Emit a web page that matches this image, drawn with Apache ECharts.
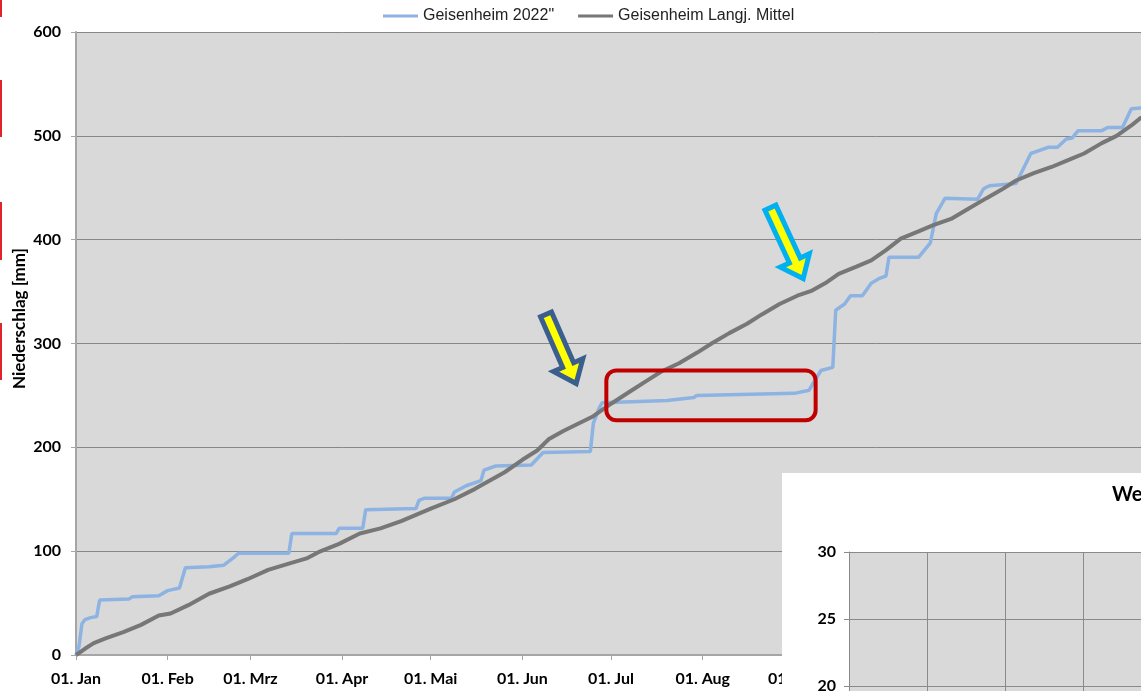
<!DOCTYPE html>
<html lang="de">
<head>
<meta charset="utf-8">
<title>Niederschlag Geisenheim</title>
<script src="https://cdn.jsdelivr.net/npm/echarts@6/dist/echarts.min.js"></script>
<style>
  html, body { margin: 0; padding: 0; background: #fff; }
  #main { width: 1141px; height: 691px; }
</style>
</head>
<body>
<div id="main"></div>
<script>
// Monatsanfaenge (Tag im Jahr) und Beschriftung
var monthStarts = [0, 31, 59, 90, 120, 151, 181, 212, 243, 273, 304, 334];
var monthNames = ['01. Jan', '01. Feb', '01. Mrz', '01. Apr', '01. Mai', '01. Jun',
                  '01. Jul', '01. Aug', '01. Sep', '01. Okt', '01. Nov', '01. Dez'];

// Geisenheim 2022 - Niederschlagssumme [mm]
var yearDays = [0, 1, 2, 3, 5, 7, 8, 18, 19, 28, 31, 35, 37, 45, 50, 53, 55, 72, 73, 88, 89, 97,
                98, 115, 116, 118, 127, 128, 132, 137, 138, 142, 154, 156, 158, 174, 175, 177,
                178, 188, 200, 209, 210, 243, 248, 249, 252, 256, 257, 260, 262, 266, 269, 272,
                274, 275, 285, 287, 289, 291, 294, 305, 307, 309, 318, 323, 325, 329, 332, 335,
                337, 339, 347, 349, 354, 357, 361];
var yearRain = [0, 8, 30, 34, 36, 37, 53, 54, 56, 57, 62, 64.5, 84, 85, 86.5, 93, 98, 98, 117, 117,
                122, 122, 140, 141, 149, 151, 151, 157, 163, 168, 178, 182, 183, 189, 195, 196,
                223, 238, 243, 244, 245, 248, 250, 252, 255, 260, 274, 277, 332, 338, 346, 346,
                358, 363, 365, 383, 383, 390, 397, 425, 440, 439, 449, 452, 454, 483, 485, 489,
                489, 497, 498, 505, 505, 508, 508, 526, 527];

// Geisenheim langjaehriges Mittel [mm]
var meanDays = [0, 3, 6, 10, 16, 22, 28, 32, 38, 45, 52, 58, 65, 72, 78, 82, 89, 96, 103, 110,
                120, 128, 135, 140, 145, 151, 156, 160, 165, 170, 175, 181, 187, 193, 198, 204,
                210, 215, 221, 227, 232, 238, 244, 249, 254, 258, 264, 269, 274, 279, 285, 290,
                296, 302, 308, 313, 318, 324, 330, 336, 341, 347, 352, 357, 360, 365];
var meanRain = [0, 6, 11.5, 16, 22, 29, 38, 40, 48, 59, 66, 73, 82, 88, 93, 99, 107, 117, 122, 129,
                141, 150, 160, 168, 176, 188, 197, 208, 216, 223, 230, 242, 253, 264, 273, 281,
                291, 300, 310, 319, 328, 338, 346, 351, 359, 367, 374, 380, 390, 401, 408, 414,
                420, 430, 440, 448, 457, 464, 470, 477, 483, 493, 500, 510, 517, 522];

// Achse des ueberlagerten Diagramms
var insetTicks = [20, 25, 30];

var labelFont = { fontFamily: 'Lato', fontWeight: 'bold', fontSize: 16, color: '#000' };

function pairs(xs, ys) {
  return xs.map(function (x, i) { return [x, ys[i]]; });
}

var myChart = echarts.init(document.getElementById('main'));

var option = {
  animation: false,
  backgroundColor: '#fff',
  legend: {
    left: 378,
    top: 3,
    itemWidth: 35,
    itemHeight: 3,
    itemGap: 24,
    icon: 'rect',
    textStyle: { fontFamily: 'Liberation Sans', fontSize: 16, color: '#222' },
    data: ['Geisenheim 2022"', 'Geisenheim Langj. Mittel']
  },
  title: {
    text: 'We',
    left: 1112,
    top: 485,
    padding: 0,
    zlevel: 1,
    z: 10,
    textStyle: { fontFamily: 'Lato', fontWeight: 'bold', fontSize: 20, color: '#000' }
  },
  grid: [{
    left: 76, top: 32, width: 1079, height: 623,
    outerBoundsMode: 'none',
    show: true, backgroundColor: '#d9d9d9', borderWidth: 0
  }, {
    left: 849, top: 552, width: 390, height: 402,
    outerBoundsMode: 'none',
    show: true, backgroundColor: '#d9d9d9', borderWidth: 0,
    zlevel: 1, z: 2
  }],
  xAxis: [{
    type: 'value', gridIndex: 0, min: 0, max: 365,
    axisLine: { show: true, lineStyle: { color: '#a6a6a6', width: 2 } },
    axisTick: { show: true, length: 5, customValues: monthStarts, lineStyle: { color: '#a6a6a6' } },
    axisLabel: Object.assign({
      margin: 16,
      customValues: monthStarts,
      formatter: function (v) { return monthNames[monthStarts.indexOf(v)]; }
    }, labelFont),
    splitLine: { show: false }
  }, {
    type: 'value', gridIndex: 1, min: 0, max: 5, interval: 1,
    zlevel: 1, z: 3,
    axisLine: { show: false },
    axisTick: { show: false },
    axisLabel: { show: false },
    splitLine: { show: true, lineStyle: { color: '#8a8a8a', width: 1 } }
  }],
  yAxis: [{
    type: 'value', gridIndex: 0, min: 0, max: 600, interval: 100,
    name: 'Niederschlag [mm]',
    nameLocation: 'middle',
    nameGap: 48,
    nameMoveOverlap: false,
    nameTextStyle: { fontFamily: 'Lato', fontWeight: 'bold', fontSize: 17, color: '#000', padding: [0, 0, 0, 50] },
    axisLine: { show: true, lineStyle: { color: '#a6a6a6', width: 2 } },
    axisTick: { show: true, length: 5, lineStyle: { color: '#a6a6a6' } },
    axisLabel: Object.assign({ margin: 15 }, labelFont),
    splitLine: { show: true, lineStyle: { color: '#878787', width: 1 } }
  }, {
    type: 'value', gridIndex: 1, min: 0, max: 30, interval: 5,
    zlevel: 1, z: 3,
    axisLine: { show: true, lineStyle: { color: '#8a8a8a', width: 1 } },
    axisTick: { show: true, length: 5, lineStyle: { color: '#8a8a8a' } },
    axisLabel: Object.assign({
      margin: 13,
      customValues: insetTicks
    }, labelFont),
    splitLine: { show: true, lineStyle: { color: '#8a8a8a', width: 1 } }
  }],
  series: [{
    name: 'Geisenheim 2022"',
    type: 'line',
    xAxisIndex: 0, yAxisIndex: 0,
    showSymbol: false,
    itemStyle: { color: '#8db3e2' },
    lineStyle: { color: '#8db3e2', width: 3.5 },
    data: pairs(yearDays, yearRain)
  }, {
    name: 'Geisenheim Langj. Mittel',
    type: 'line',
    xAxisIndex: 0, yAxisIndex: 0,
    showSymbol: false,
    itemStyle: { color: '#777' },
    lineStyle: { color: '#777', width: 4 },
    data: pairs(meanDays, meanRain)
  }]
};

myChart.setOption(option);

// Markierungen im Diagramm, an Datenkoordinaten verankert
function px(p) { return myChart.convertToPixel({ gridIndex: 0 }, p); }

function arrow(tail, tip, shaftW, headW, headL) {
  var a = px(tail), b = px(tip);
  var dx = b[0] - a[0], dy = b[1] - a[1];
  var len = Math.sqrt(dx * dx + dy * dy);
  var ux = dx / len, uy = dy / len, nx = -uy, ny = ux;
  var bx = b[0] - ux * headL, by = b[1] - uy * headL;
  return [
    [a[0] + nx * shaftW / 2, a[1] + ny * shaftW / 2],
    [bx + nx * shaftW / 2, by + ny * shaftW / 2],
    [bx + nx * headW / 2, by + ny * headW / 2],
    [b[0], b[1]],
    [bx - nx * headW / 2, by - ny * headW / 2],
    [bx - nx * shaftW / 2, by - ny * shaftW / 2],
    [a[0] - nx * shaftW / 2, a[1] - ny * shaftW / 2]
  ];
}

var boxA = px([179.4, 274]);
var boxB = px([250.2, 226]);

myChart.setOption({
  graphic: [
    {
      type: 'rect', z: 50,
      shape: { x: boxA[0], y: boxA[1], width: boxB[0] - boxA[0], height: boxB[1] - boxA[1], r: 10 },
      style: { fill: null, stroke: '#c00000', lineWidth: 4 }
    },
    {
      type: 'polygon', z: 50,
      shape: { points: arrow([159, 328], [169.2, 261.5], 12, 32, 20) },
      style: { fill: '#ffff00', stroke: '#3a5f8f', lineWidth: 5, lineJoin: 'miter' }
    },
    {
      type: 'polygon', z: 50,
      shape: { points: arrow([234.9, 430.8], [246, 362.5], 12, 32, 20) },
      style: { fill: '#ffff00', stroke: '#00b0f0', lineWidth: 5, lineJoin: 'miter' }
    },
    // weisse Flaeche des ueberlagerten Diagramms
    {
      type: 'rect', zlevel: 1, z: 0,
      shape: { x: 782, y: 473, width: 400, height: 260 },
      style: { fill: '#fff' }
    },
    // rote Kanten am linken Bildrand
    { type: 'rect', z: 50, shape: { x: 0, y: 0, width: 2, height: 17 }, style: { fill: '#e0242c' } },
    { type: 'rect', z: 50, shape: { x: 0, y: 80, width: 2, height: 57 }, style: { fill: '#e0242c' } },
    { type: 'rect', z: 50, shape: { x: 0, y: 202, width: 2, height: 58 }, style: { fill: '#e0242c' } },
    { type: 'rect', z: 50, shape: { x: 0, y: 323, width: 2, height: 57 }, style: { fill: '#e0242c' } }
  ]
});
</script>
</body>
</html>
